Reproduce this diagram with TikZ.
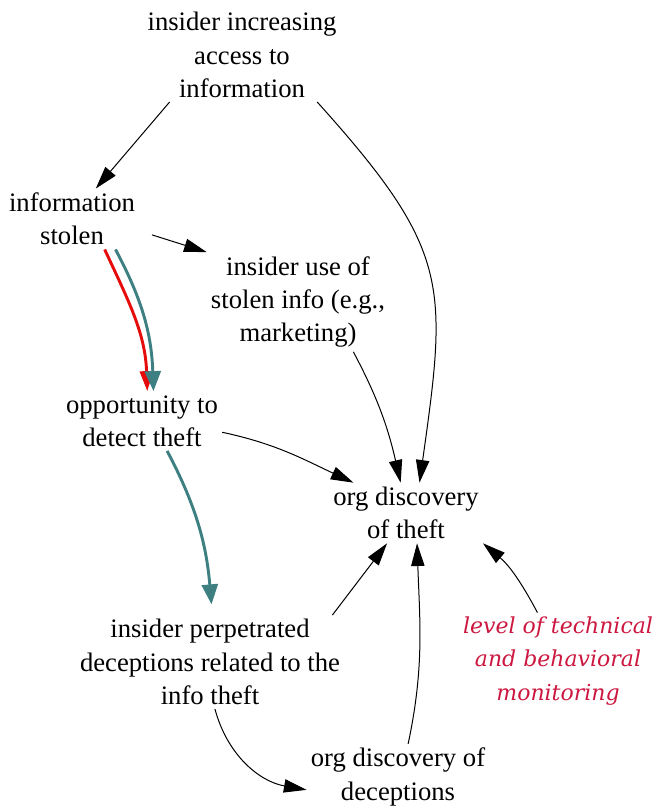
\documentclass[tikz,border=0pt]{standalone}
\usepackage{fontspec}
\setmainfont{Liberation Serif}
\newfontfamily\monitorfont{DejaVu Serif}
\usepackage{tikz}
\usetikzlibrary{calc,arrows.meta,positioning}

\definecolor{loopteal}{RGB}{62,128,130}
\definecolor{loopred}{RGB}{230,12,12}
\definecolor{policyred}{RGB}{204,24,64}

\begin{document}
\begin{tikzpicture}[x=0.75pt, y=-0.75pt,
                    font=\fontsize{20}{25}\selectfont,
                    var/.style={align=center, inner sep=3pt},
                    policy/.style={var, text=policyred, font=\monitorfont\itshape\fontsize{16.5}{25}\selectfont},
                    link/.style={-{Triangle[length=17pt,width=10pt]}, line width=0.75pt},
                    redlink/.style={-{Triangle[length=15pt,width=10pt]}, line width=2.2pt, loopred},
                    teallink/.style={-{Triangle[length=15pt,width=12pt]}, line width=2.2pt, loopteal}]

        \useasboundingbox (0,0) rectangle (660,809);

        \node[var] (top)    at (242,55)  {insider increasing\\access to\\information};
        \node[var] (stolen) at (72,219)  {information\\stolen};
        \node[var] (use)    at (298,302) {insider use of\\stolen info (e.g.,\\marketing)};
        \node[var] (opp)    at (142,421) {opportunity to\\detect theft};
        \node[var] (theft)  at (406,513) {org discovery\\of theft};
        \node[var] (perp)   at (210,662) {insider perpetrated\\deceptions related to the\\info theft};
        \node[policy] (level) at (558,661) {level of technical\\and behavioral\\monitoring};
        \node[var] (dec)    at (398,777) {org discovery of\\deceptions};

        \draw[link] (top.-147) -- (stolen.52);
        \draw[link] (top.-32) to[out=-48, in=82, looseness=1.3] (theft.66);
        \draw[link, shorten <=10pt] (stolen.-10) -- (use.north west);
        \draw[link] (use.-42) to[out=-62, in=103] (theft.100);
        \draw[redlink] (stolen.-43) to[out=-65, in=92] (opp.80);
        \draw[teallink] (stolen.-35) to[out=-62, in=92] (opp.69);
        \draw[link] (opp.-8) to[out=-12, in=155] (theft.150);
        \draw[teallink, shorten >=8pt] (opp.-50) to[out=-62, in=95] (perp.87);
        \draw[link] (perp.21) -- (theft.-122);
        \draw[link] (dec.73) to[out=78, in=-88] (theft.-70);
        \draw[link] (level.113) to[out=118, in=-40] (theft.south east);
        \draw[link] (perp.-84) to[out=-75, in=170] (dec.-172);
\end{tikzpicture}
\end{document}
